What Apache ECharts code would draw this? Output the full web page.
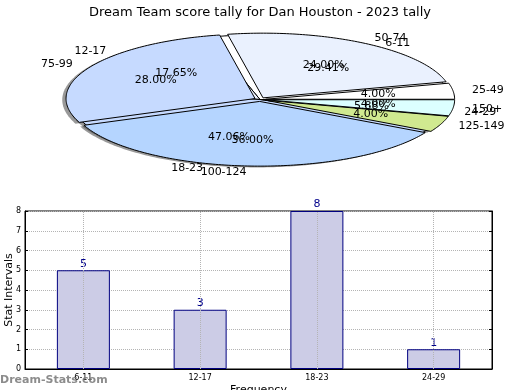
<!DOCTYPE html>
<html>
<head>
<meta charset="utf-8">
<script src="https://cdn.jsdelivr.net/npm/echarts@6/dist/echarts.min.js"></script>
<style>
html,body{margin:0;padding:0;background:#fff;}
#main{width:520px;height:390px;}
</style>
</head>
<body>
<div id="main"></div>
<script>
// ---- data ----
const titleText = 'Dream Team score tally for Dan Houston - 2023 tally';
const pieANames = ['6-11', '12-17', '18-23', '24-29'];
const pieAValues = [5, 3, 8, 1];
const pieBNames = ['25-49', '50-74', '75-99', '100-124', '125-149', '150+'];
const pieBValues = [1, 6, 7, 9, 1, 1];
const barCategories = ['6-11', '12-17', '18-23', '24-29'];
const barValues = [5, 3, 8, 1];
const yTicks = [0, 1, 2, 3, 4, 5, 6, 7, 8];

// ---- styles / layout ----
const FONT = 'DejaVu Sans';
const pieColors = ['#ffffff', '#eaf1fe', '#c6daff', '#b5d5ff', '#d0e990', '#dcffff'];
const PIE = { cxFrac: 0.5, cy: 99.5, rx: 189, ry: 64.7, explodeB: 0.03 };

function sliceAngles(values, i) {
  const total = values.reduce((a, b) => a + b, 0);
  let s = 0;
  for (let j = 0; j < i; j++) s += values[j];
  return [s / total * 360, (s + values[i]) / total * 360, values[i] / total * 100];
}
function wedgePoints(cx, cy, rx, ry, a0, a1, ox, oy) {
  const pts = [[cx + ox, cy + oy]];
  const n = Math.max(2, Math.ceil(a1 - a0));
  for (let k = 0; k <= n; k++) {
    const a = (a0 + (a1 - a0) * k / n) * Math.PI / 180;
    pts.push([cx + ox + rx * Math.cos(a), cy + oy - ry * Math.sin(a)]);
  }
  return pts;
}
function explodeOffset(a0, a1, e) {
  const m = (a0 + a1) / 2 * Math.PI / 180;
  return [e * PIE.rx * Math.cos(m), -e * PIE.ry * Math.sin(m)];
}

function makeWedgeSeries(values, explode, shadow, z) {
  return {
    type: 'custom', coordinateSystem: 'none', silent: true, z: z,
    data: values.map((v, i) => [i, v]),
    renderItem: function (params, api) {
      const i = params.dataIndex;
      const cx = api.getWidth() * PIE.cxFrac;
      const [a0, a1] = sliceAngles(values, i);
      let [ox, oy] = explodeOffset(a0, a1, explode);
      if (shadow) { ox += -0.02 * PIE.rx; oy += 0.02 * PIE.ry; }
      return {
        type: 'polygon',
        shape: { points: wedgePoints(cx, PIE.cy, PIE.rx, PIE.ry, a0, a1, ox, oy) },
        style: shadow ? { fill: 'rgba(70,70,70,0.55)', stroke: null }
                      : { fill: pieColors[i % pieColors.length], stroke: '#000', lineWidth: 1, lineJoin: 'round' }
      };
    }
  };
}

function makeLabelSeries(values, names, explode, z) {
  return {
    type: 'custom', coordinateSystem: 'none', silent: true, z: z,
    data: values.map((v, i) => [i, v]),
    renderItem: function (params, api) {
      const i = params.dataIndex;
      const cx = api.getWidth() * PIE.cxFrac;
      const [a0, a1, pct] = sliceAngles(values, i);
      const [ox, oy] = explodeOffset(a0, a1, explode);
      const m = (a0 + a1) / 2 * Math.PI / 180;
      const c = Math.cos(m), s = Math.sin(m);
      const lx = cx + ox + 1.1 * PIE.rx * c, ly = PIE.cy + oy - 1.1 * PIE.ry * s;
      const px = cx + ox + 0.6 * PIE.rx * c, py = PIE.cy + oy - 0.6 * PIE.ry * s;
      return {
        type: 'group',
        children: [
          { type: 'text', x: lx, y: ly,
            style: { text: names[i], fill: '#000', fontSize: 11, fontFamily: FONT,
                     align: c < 0 ? 'right' : 'left', verticalAlign: 'middle',
                     textAlign: c < 0 ? 'right' : 'left', textVerticalAlign: 'middle' } },
          { type: 'text', x: px, y: py,
            style: { text: pct.toFixed(2) + '%', fill: '#000', fontSize: 11, fontFamily: FONT,
                     align: 'center', verticalAlign: 'middle',
                     textAlign: 'center', textVerticalAlign: 'middle' } }
        ]
      };
    }
  };
}

const chart = echarts.init(document.getElementById('main'), null, { renderer: 'canvas' });
const gridLine = { type: 'dotted', color: '#b4b4b4', width: 1 };

chart.setOption({
  animation: false,
  backgroundColor: '#fff',
  textStyle: { fontFamily: FONT },
  title: {
    text: titleText, left: 'center', top: 1,
    textStyle: { fontSize: 13, fontWeight: 'normal', color: '#000', fontFamily: FONT }
  },
  graphic: [{
    type: 'text', left: 0, top: 375, z: 100,
    style: { text: 'Dream-Stats.com', fill: 'rgba(120,120,120,0.85)', font: 'bold 11px "DejaVu Sans"' }
  }],
  grid: { left: 25, right: 28, top: 211, bottom: 21, show: true, borderColor: '#000', borderWidth: 1,
          backgroundColor: '#fff', containLabel: false, outerBoundsMode: 'none' },
  xAxis: {
    type: 'category', data: barCategories,
    axisLine: { lineStyle: { color: '#000' } },
    axisTick: { inside: true, alignWithLabel: true, length: 3, lineStyle: { color: '#000' } },
    axisLabel: { fontSize: 8, color: '#000', margin: 5, fontFamily: FONT },
    splitLine: { show: false },
    name: 'Frequency', nameLocation: 'middle', nameGap: 16, nameMoveOverlap: false,
    nameTextStyle: { fontSize: 11, color: '#000', fontFamily: FONT }
  },
  yAxis: [{
    type: 'value', min: yTicks[0], max: yTicks[yTicks.length - 1], interval: 1,
    axisLine: { show: true, lineStyle: { color: '#000' } },
    axisTick: { show: true, inside: true, length: 3, lineStyle: { color: '#000' } },
    axisLabel: { fontSize: 8, color: '#000', margin: 4, fontFamily: FONT },
    splitLine: { show: true, lineStyle: gridLine },
    name: 'Stat Intervals', nameLocation: 'middle', nameGap: 10, nameMoveOverlap: false,
    nameTextStyle: { fontSize: 11, color: '#000', fontFamily: FONT }
  }, {
    type: 'value', min: yTicks[0], max: yTicks[yTicks.length - 1], interval: 1, position: 'right',
    axisLine: { show: true, lineStyle: { color: '#000' } },
    axisTick: { show: true, inside: true, length: 3, lineStyle: { color: '#000' } },
    axisLabel: { show: false }, splitLine: { show: false }
  }],
  series: [
    {
      type: 'bar', data: barValues, barWidth: 53, z: 2,
      itemStyle: { color: '#cccce6', borderColor: '#000080', borderWidth: 1 },
      label: { show: true, position: 'top', distance: 1, color: '#00008b', fontSize: 11, fontFamily: FONT },
      markLine: {
        silent: true, symbol: 'none', label: { show: false },
        lineStyle: gridLine,
        data: barCategories.map(c => ({ xAxis: c }))
      }
    },
    makeWedgeSeries(pieAValues, 0, true, 10),
    makeWedgeSeries(pieBValues, PIE.explodeB, true, 11),
    makeWedgeSeries(pieAValues, 0, false, 12),
    makeWedgeSeries(pieBValues, PIE.explodeB, false, 13),
    makeLabelSeries(pieAValues, pieANames, 0, 20),
    makeLabelSeries(pieBValues, pieBNames, PIE.explodeB, 21)
  ]
});
</script>
</body>
</html>
